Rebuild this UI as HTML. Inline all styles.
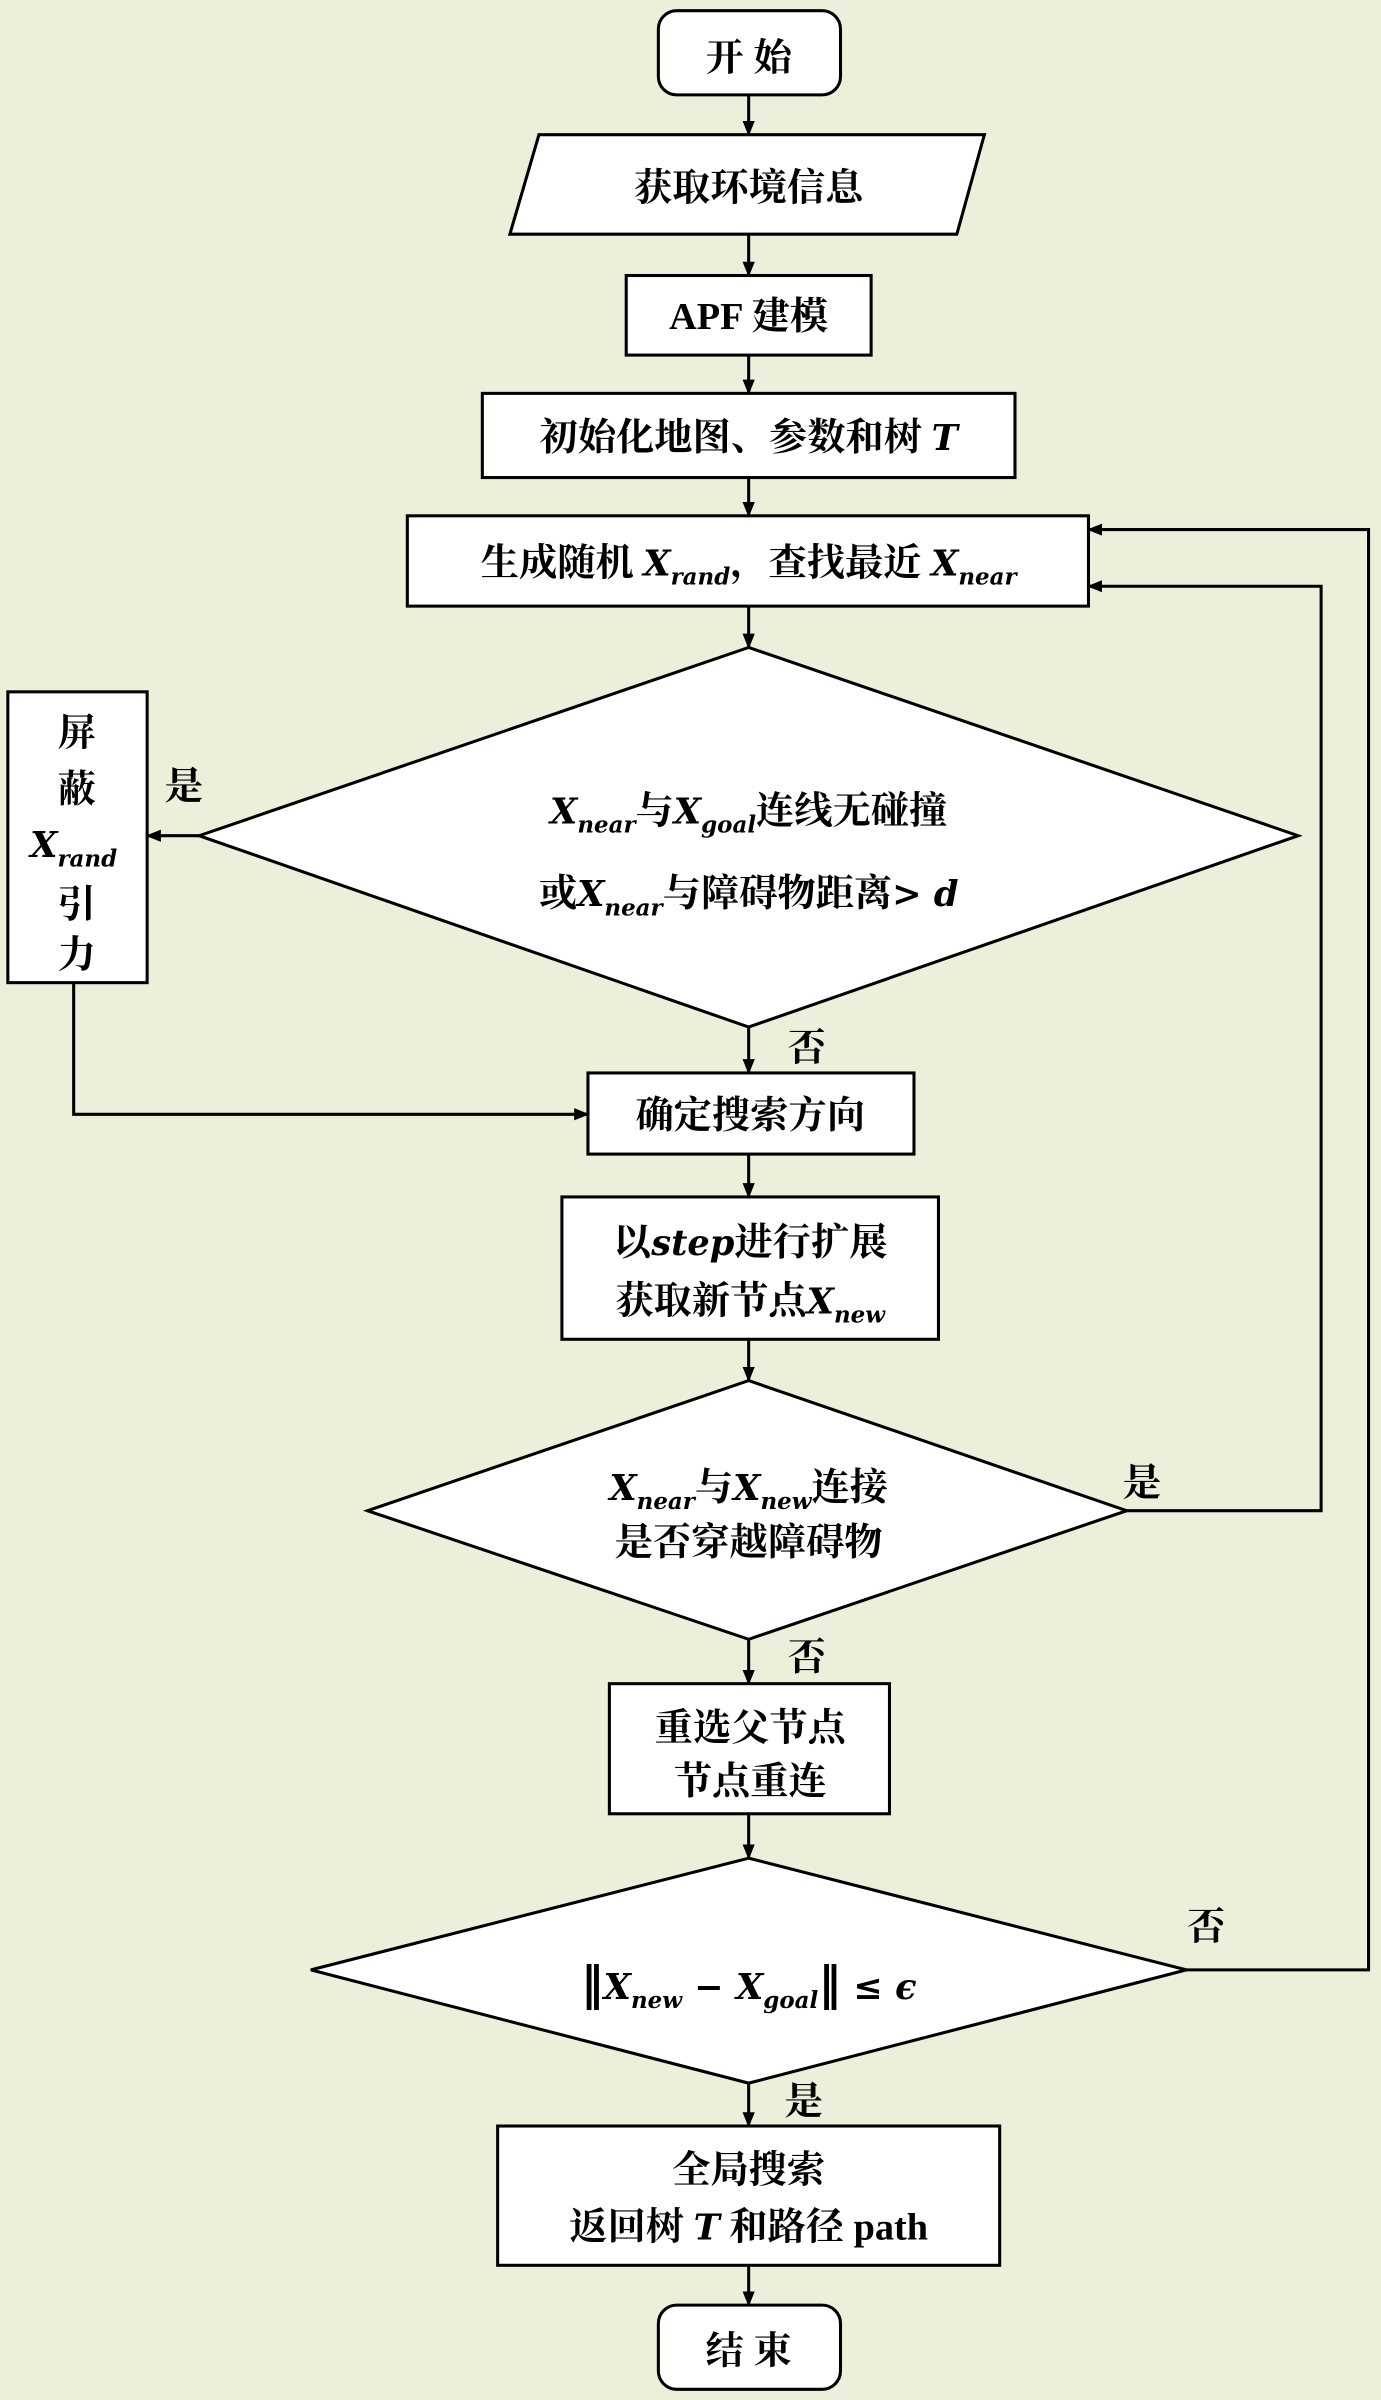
<!DOCTYPE html>
<html><head><meta charset="utf-8"><style>
html,body{margin:0;padding:0;background:#EEEFDB;}
svg{display:block}
text{font-family:"Liberation Serif","Noto Serif CJK SC",serif;font-size:25px;font-weight:bold;fill:#000;}
.m{font-family:"DejaVu Serif",serif;font-style:italic;font-size:23px;}
.s{font-family:"DejaVu Serif",serif;font-size:15px;font-style:italic;}
.n{font-family:"DejaVu Serif",serif;font-size:23px;}
</style></head><body>
<svg width="1381" height="2400" viewBox="0 0 902 1568" xmlns="http://www.w3.org/2000/svg">
<defs><marker id="a" markerWidth="10" markerHeight="10" refX="9" refY="5" orient="auto" markerUnits="userSpaceOnUse"><path d="M0,1 L10,5 L0,9 Z" fill="#000"/></marker></defs>
<rect width="902" height="1568" fill="#EEEFDB"/>
<g fill="#fff" stroke="#000" stroke-width="2">
<rect x="430" y="7" width="119" height="55" rx="12"/>
<polygon points="352,88 643,88 625,153 333,153"/>
<rect x="409" y="180" width="160" height="52"/>
<rect x="315" y="257" width="348" height="55"/>
<rect x="266" y="337" width="445" height="59"/>
<polygon points="489,423 848,546 489,671 130,546"/>
<rect x="5" y="452" width="91" height="190"/>
<rect x="384" y="701" width="213" height="53"/>
<rect x="367" y="782" width="246" height="93"/>
<polygon points="489,902 736,987 489,1071 240,987"/>
<rect x="398" y="1100" width="183" height="85"/>
<polygon points="489,1214 775,1287 489,1361 203,1287"/>
<rect x="325" y="1389" width="328" height="91"/>
<rect x="430" y="1506" width="119" height="55" rx="12"/>
</g>
<g stroke="#000" stroke-width="2" fill="none" marker-end="url(#a)">
<line x1="489" y1="62" x2="489" y2="88"/>
<line x1="489" y1="153" x2="489" y2="180"/>
<line x1="489" y1="232" x2="489" y2="257"/>
<line x1="489" y1="312" x2="489" y2="337"/>
<line x1="489" y1="396" x2="489" y2="423"/>
<line x1="130" y1="546" x2="96" y2="546"/>
<line x1="489" y1="671" x2="489" y2="701"/>
<polyline points="48,642 48,728 384,728"/>
<line x1="489" y1="754" x2="489" y2="782"/>
<line x1="489" y1="875" x2="489" y2="902"/>
<polyline points="736,987 863,987 863,383 711,383"/>
<line x1="489" y1="1071" x2="489" y2="1100"/>
<line x1="489" y1="1185" x2="489" y2="1214"/>
<polyline points="775,1287 894,1287 894,346 711,346"/>
<line x1="489" y1="1361" x2="489" y2="1389"/>
<line x1="489" y1="1480" x2="489" y2="1506"/>
</g>
<g text-anchor="middle">
<text x="489" y="46">开 始</text>
<text x="489" y="131">获取环境信息</text>
<text x="489" y="215">APF 建模</text>
<text x="489" y="294">初始化地图、参数和树 <tspan class="m">T</tspan></text>
<text x="489" y="376">生成随机 <tspan class="m">X</tspan><tspan class="s" dy="6">rand</tspan><tspan dy="-6">，查找最近 </tspan><tspan class="m">X</tspan><tspan class="s" dy="6">near</tspan></text>
<text x="489" y="538"><tspan class="m">X</tspan><tspan class="s" dy="6">near</tspan><tspan dy="-6">与</tspan><tspan class="m">X</tspan><tspan class="s" dy="6">goal</tspan><tspan dy="-6">连线无碰撞</tspan></text>
<text x="489" y="592">或<tspan class="m">X</tspan><tspan class="s" dy="6">near</tspan><tspan dy="-6">与障碍物距离</tspan><tspan class="n">&gt; </tspan><tspan class="m">d</tspan></text>
<text x="50" y="487">屏</text>
<text x="50" y="524">蔽</text>
<text x="48" y="560"><tspan class="m">X</tspan><tspan class="s" dy="6">rand</tspan></text>
<text x="50" y="599">引</text>
<text x="50" y="632">力</text>
<text x="120" y="522">是</text>
<text x="527" y="693">否</text>
<text x="490" y="737">确定搜索方向</text>
<text x="490" y="820">以<tspan class="m">step</tspan>进行扩展</text>
<text x="490" y="858">获取新节点<tspan class="m">X</tspan><tspan class="s" dy="6">new</tspan></text>
<text x="489" y="980"><tspan class="m">X</tspan><tspan class="s" dy="6">near</tspan><tspan dy="-6">与</tspan><tspan class="m">X</tspan><tspan class="s" dy="6">new</tspan><tspan dy="-6">连接</tspan></text>
<text x="489" y="1016">是否穿越障碍物</text>
<text x="746" y="977">是</text>
<text x="527" y="1091">否</text>
<text x="490" y="1137">重选父节点</text>
<text x="490" y="1172">节点重连</text>
<text x="489" y="1306"><tspan class="n" style="font-size:30px">‖</tspan><tspan class="m">X</tspan><tspan class="s" dy="6">new</tspan><tspan class="n" dy="-6"> − </tspan><tspan class="m">X</tspan><tspan class="s" dy="6">goal</tspan><tspan class="n" dy="-6" style="font-size:30px">‖</tspan><tspan class="n"> ≤ </tspan><tspan class="m">ϵ</tspan></text>
<text x="788" y="1267">否</text>
<text x="525" y="1381">是</text>
<text x="489" y="1426">全局搜索</text>
<text x="489" y="1463">返回树 <tspan class="m">T</tspan> 和路径 path</text>
<text x="489" y="1544">结 束</text>
</g>
</svg>
</body></html>
